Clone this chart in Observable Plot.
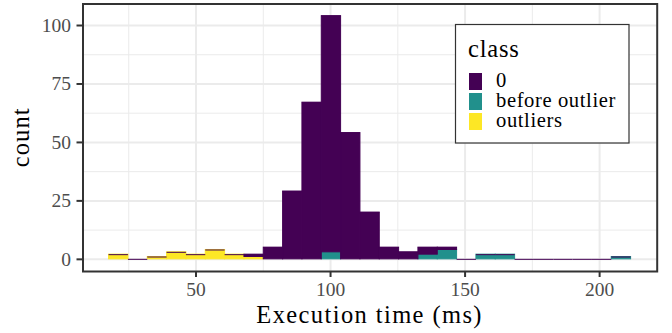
<!DOCTYPE html>
<html><head><meta charset="utf-8">
<script src="https://cdn.jsdelivr.net/npm/d3@7"></script>
<script src="https://cdn.jsdelivr.net/npm/@observablehq/plot@0.6"></script>
<style>
body{margin:0;background:#fff;}
#chart{position:relative;width:672px;height:333px;}
#chart svg text{font-family:"Liberation Serif","Times New Roman","DejaVu Serif",serif !important;}
</style></head><body><div id="chart"></div>
<script>
// ---- data ----
const classes = ["0", "before outlier", "outliers"];
const classColors = ["#440154", "#21908C", "#FDE725"];
const binEdges = [17.70, 24.89, 32.07, 39.26, 46.44, 53.63, 60.81, 68.00, 75.18, 82.37, 89.55, 96.74, 103.92, 111.11,
  118.29, 125.48, 132.66, 139.85, 147.03, 154.22, 161.40, 168.59, 175.77, 182.96, 190.14, 197.33, 204.51, 211.70];
const count0        = [0,0,0,0,0,0,0,1,5,29,67,101,54,20,5,3,3,1,0,0,0,0,0,0,0,0,0];
const countBefore   = [0,0,0,0,0,0,0,0,0,0,0,3,0,0,0,0,2,4,0,2,2,0,0,0,0,0,1];
const countOutliers = [2,0,1,3,2,4,2,1,0,0,0,0,0,0,0,0,0,0,0,0,0,0,0,0,0,0,0];
const xTicks = [50, 100, 150, 200];
const xMinor = [25, 75, 125, 175];
const yTicks = [0, 25, 50, 75, 100];
const yMinor = [12.5, 37.5, 62.5, 87.5];
const xTitle = "Execution time (ms)";
const yTitle = "count";
const legendTitle = "class";

// stacking order: bottom to top
const series = [["outliers", countOutliers], ["before outlier", countBefore], ["0", count0]];
const rows = [];
series.forEach(([cls, arr]) => arr.forEach((c, i) => rows.push({cls, x1: binEdges[i], x2: binEdges[i + 1], count: c})));
const tops = count0.map((c, i) => ({x1: binEdges[i], x2: binEdges[i + 1], total: c + countBefore[i] + countOutliers[i]}));

const FONT = "Liberation Serif, Times New Roman, DejaVu Serif, serif";
const W = 672, H = 333, mL = 82.5, mR = 15.3, mT = 3.5, mB = 62;

const plot = Plot.plot({
  width: W, height: H,
  marginLeft: mL, marginRight: mR, marginTop: mT, marginBottom: mB,
  x: {domain: [8.0, 221.4]},
  y: {domain: [-5.2, 109.2]},
  color: {domain: classes, range: classColors},
  style: {fontFamily: FONT, background: "white", overflow: "visible"},
  marks: [
    Plot.gridX(xMinor, {stroke: "#EBEBEB", strokeOpacity: 1, strokeWidth: 1}),
    Plot.gridY(yMinor, {stroke: "#EBEBEB", strokeOpacity: 1, strokeWidth: 1}),
    Plot.gridX(xTicks, {stroke: "#EBEBEB", strokeOpacity: 1, strokeWidth: 2}),
    Plot.gridY(yTicks, {stroke: "#EBEBEB", strokeOpacity: 1, strokeWidth: 2}),
    Plot.rect(rows, Plot.stackY({x1: "x1", x2: "x2", y: "count", z: "cls", fill: "cls", stroke: "cls", strokeWidth: 1})),
    Plot.ruleY(tops, {x1: "x1", x2: "x2", y: "total", stroke: classColors[0], strokeWidth: 1}),
    Plot.frame({stroke: "#333333", strokeWidth: 2}),
    Plot.axisX(xTicks, {tickSize: 6, tickPadding: 4.5, fontSize: 19.5, label: null, stroke: "#333333", strokeWidth: 2, fill: "#4D4D4D"}),
    Plot.axisY(yTicks, {tickSize: 6, tickPadding: 6, fontSize: 19.5, label: null, stroke: "#333333", strokeWidth: 2, fill: "#4D4D4D"})
  ]
});
document.getElementById("chart").appendChild(plot);

const svg = d3.select(plot);
// axis titles
svg.append("text").attr("x", (mL + W - mR) / 2).attr("y", 323)
  .attr("text-anchor", "middle").attr("font-size", 24.5)
  .attr("letter-spacing", "1.4px").attr("fill", "black").text(xTitle);
svg.append("text").attr("transform", `translate(29,${(mT + H - mB) / 2}) rotate(-90)`)
  .attr("text-anchor", "middle").attr("font-size", 24.5)
  .attr("letter-spacing", "1.1px").attr("fill", "black").text(yTitle);

// legend
const lg = svg.append("g").attr("transform", "translate(455,24)").attr("text-anchor", "start");
lg.append("rect").attr("x", 0.5).attr("y", 0.5).attr("width", 173.5).attr("height", 118.5)
  .attr("fill", "white").attr("stroke", "#333333").attr("stroke-width", 1.2);
lg.append("text").attr("x", 13).attr("y", 33).attr("font-size", 24.5)
  .attr("letter-spacing", "0.8px").attr("fill", "black").text(legendTitle);
classes.forEach((c, i) => {
  lg.append("rect").attr("x", 14).attr("y", 49 + i * 20).attr("width", 13).attr("height", 17).attr("fill", classColors[i]);
  lg.append("text").attr("x", 41).attr("y", 63 + i * 20).attr("font-size", 20.6)
    .attr("letter-spacing", "0.6px").attr("fill", "black").text(c);
});
</script></body></html>
